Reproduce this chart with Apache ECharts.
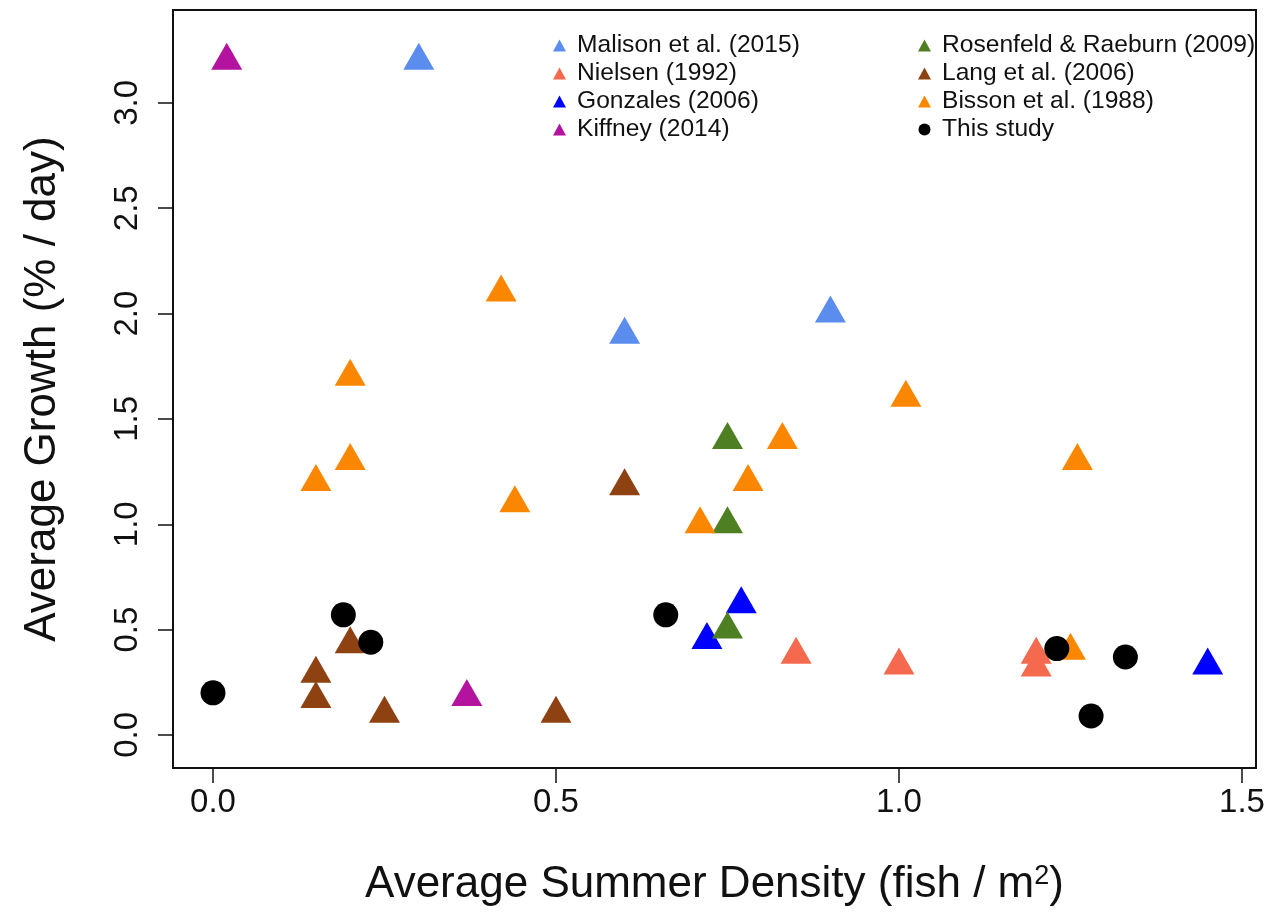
<!DOCTYPE html>
<html>
<head>
<meta charset="utf-8">
<script src="https://cdn.jsdelivr.net/npm/echarts@6/dist/echarts.min.js"></script>
<style>
  html, body { margin: 0; padding: 0; background: #ffffff; }
  #chart { width: 1288px; height: 912px; }
</style>
</head>
<body>
<div id="chart"></div>
<script>
// Growth vs. summer density, one array pair per study
const malisonX = [0.30, 0.60, 0.90];
const malisonY = [3.20, 1.90, 2.00];

const nielsenX = [0.85, 1.00, 1.20, 1.20];
const nielsenY = [0.38, 0.33, 0.38, 0.32];

const gonzalesX = [0.77, 0.72, 1.45];
const gonzalesY = [0.62, 0.45, 0.33];

const kiffneyX = [0.02, 0.37];
const kiffneyY = [3.20, 0.18];

const rosenfeldX = [0.75, 0.75, 0.75];
const rosenfeldY = [1.40, 1.00, 0.50];

const langX = [0.60, 0.20, 0.15, 0.15, 0.25, 0.50];
const langY = [1.18, 0.43, 0.29, 0.17, 0.10, 0.10];

const bissonX = [0.42, 0.20, 0.15, 0.20, 0.44, 0.71, 0.78, 0.83, 1.01, 1.26, 1.25];
const bissonY = [2.10, 1.70, 1.20, 1.30, 1.10, 1.00, 1.20, 1.40, 1.60, 1.30, 0.40];

const thisStudyX = [0.00, 0.19, 0.23, 0.66, 1.23, 1.28, 1.33];
const thisStudyY = [0.20, 0.57, 0.44, 0.57, 0.41, 0.09, 0.37];

const xTicks = [0, 0.5, 1.0, 1.5];
const yTicks = [0, 0.5, 1.0, 1.5, 2.0, 2.5, 3.0];

const FONT = '"Liberation Sans", Arial, Helvetica, sans-serif';

function pairs(xs, ys) {
  return xs.map((x, i) => [x, ys[i]]);
}

const studies = [
  { name: 'Malison et al. (2015)',     xs: malisonX,   ys: malisonY,   color: '#5B8DEF', shape: 'triangle' },
  { name: 'Nielsen (1992)',            xs: nielsenX,   ys: nielsenY,   color: '#F56A4E', shape: 'triangle' },
  { name: 'Gonzales (2006)',           xs: gonzalesX,  ys: gonzalesY,  color: '#0000FF', shape: 'triangle' },
  { name: 'Kiffney (2014)',            xs: kiffneyX,   ys: kiffneyY,   color: '#B3139E', shape: 'triangle' },
  { name: 'Rosenfeld & Raeburn (2009)', xs: rosenfeldX, ys: rosenfeldY, color: '#4E7F22', shape: 'triangle' },
  { name: 'Lang et al. (2006)',        xs: langX,      ys: langY,      color: '#8E4212', shape: 'triangle' },
  { name: 'Bisson et al. (1988)',      xs: bissonX,    ys: bissonY,    color: '#FB8700', shape: 'triangle' },
  { name: 'This study',                xs: thisStudyX, ys: thisStudyY, color: '#000000', shape: 'circle' }
];

const series = studies.map(s => ({
  name: s.name,
  type: 'scatter',
  data: pairs(s.xs, s.ys),
  symbol: s.shape,
  // filled triangles sit on their centroid, like R's pch 17
  symbolSize: s.shape === 'triangle' ? [31, 27] : 25,
  symbolOffset: s.shape === 'triangle' ? [0, -4.5] : [0, 0],
  itemStyle: { color: s.color, opacity: 1 },
  emphasis: { disabled: true }
}));

function legendBlock(names, left) {
  return {
    orient: 'vertical',
    left: left,
    top: 28,
    itemGap: 3,
    itemWidth: 13,
    itemHeight: 12,
    selectedMode: false,
    data: names.map(n => {
      const s = studies.find(t => t.name === n);
      return { name: n, icon: s.shape, itemStyle: s.shape === 'circle' ? { color: '#000' } : undefined };
    }),
    formatter: '{t|{name}}',
    textStyle: {
      fontFamily: FONT,
      fontSize: 24.6,
      color: '#111',
      rich: { t: { fontFamily: FONT, fontSize: 24.6, color: '#111', padding: [0, 0, 0, 6] } }
    }
  };
}

const chart = echarts.init(document.getElementById('chart'), null, { renderer: 'canvas' });

chart.setOption({
  animation: false,
  backgroundColor: '#ffffff',
  grid: {
    left: 173, top: 10, right: 32, bottom: 144,
    show: true,
    borderColor: '#111',
    borderWidth: 2,
    backgroundColor: 'transparent'
  },
  legend: [
    legendBlock(studies.slice(0, 4).map(s => s.name), 548),
    legendBlock(studies.slice(4).map(s => s.name), 913)
  ],
  xAxis: {
    type: 'value',
    min: -0.0583,
    max: 1.5204,
    axisLine: { show: false, onZero: false },
    splitLine: { show: false },
    axisTick: {
      show: true, length: 15, inside: false,
      customValues: xTicks,
      lineStyle: { color: '#111', width: 1.5 }
    },
    axisLabel: {
      customValues: xTicks,
      margin: 18,
      fontFamily: FONT,
      fontSize: 33,
      color: '#111',
      formatter: v => v.toFixed(1)
    },
    name: 'Average Summer Density (fish / m{sup|2})',
    nameLocation: 'middle',
    nameGap: 95,
    nameTextStyle: {
      fontFamily: FONT,
      fontSize: 44,
      color: '#111',
      rich: {
        sup: { fontFamily: FONT, fontSize: 27, color: '#111', verticalAlign: 'top', lineHeight: 26 }
      }
    }
  },
  yAxis: {
    type: 'value',
    min: -0.157,
    max: 3.441,
    axisLine: { show: false, onZero: false },
    splitLine: { show: false },
    axisTick: {
      show: true, length: 15, inside: false,
      customValues: yTicks,
      lineStyle: { color: '#111', width: 1.5 }
    },
    axisLabel: {
      customValues: yTicks,
      rotate: 90,
      margin: 29,
      fontFamily: FONT,
      fontSize: 33,
      color: '#111',
      formatter: v => v.toFixed(1)
    },
    name: 'Average Growth (% / day)',
    nameLocation: 'middle',
    nameRotate: 90,
    nameGap: 108,
    nameTextStyle: { fontFamily: FONT, fontSize: 44, color: '#111' }
  },
  series: series
});
</script>
</body>
</html>
